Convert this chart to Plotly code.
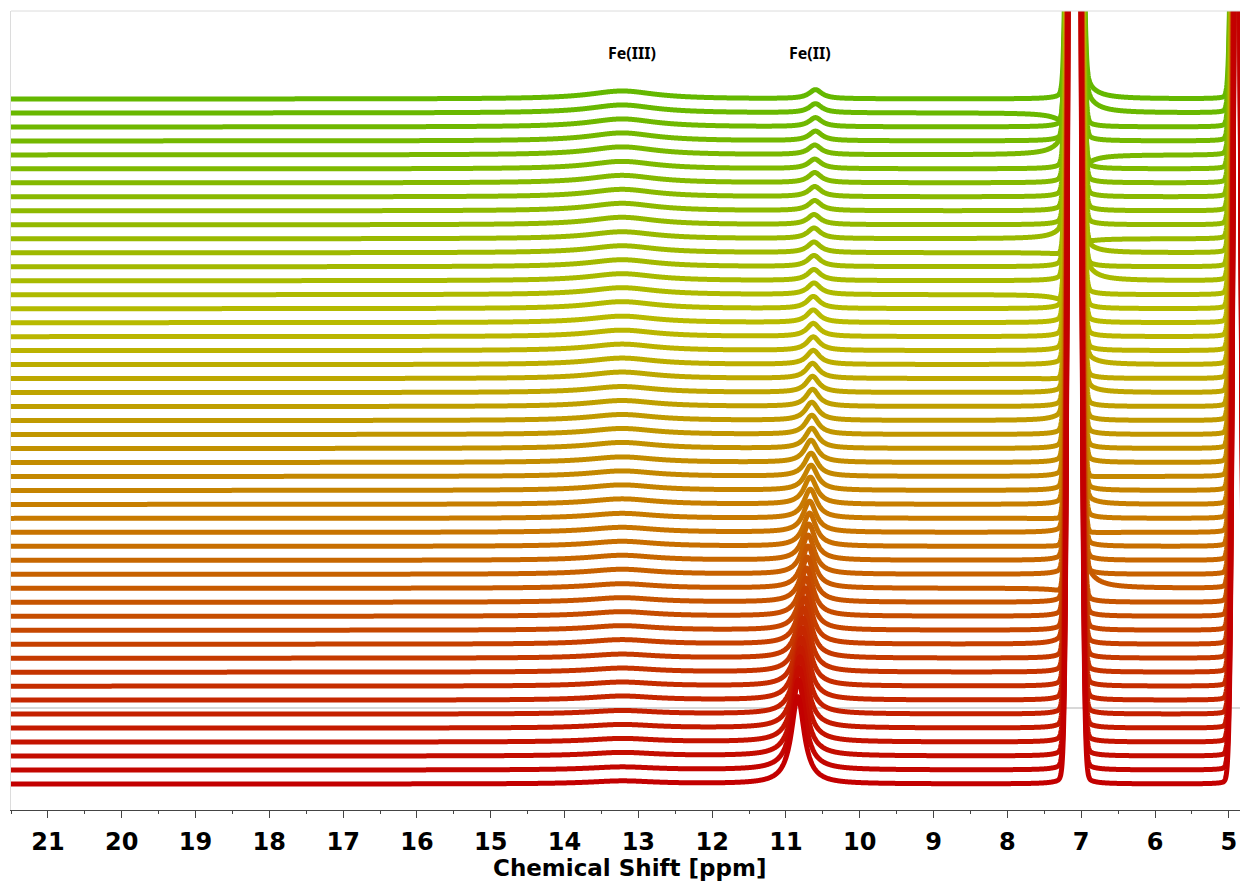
import numpy as np
import plotly.graph_objects as go

# ---------------- data (top trace -> bottom trace) ----------------
N_TRACES = 50
fe2_height = [9, 9, 9, 9.5, 9.5, 9.5, 10, 10, 10, 10,
              10.5, 10.5, 11, 11, 11.5, 12, 12.5, 13, 13.5, 14,
              15, 16, 17, 18, 19, 20, 22, 23, 25, 27,
              29, 31, 33, 36, 39, 42, 45, 48, 52, 56,
              60, 64, 68, 72, 76, 80, 85, 88, 90, 87]
fe2_shift = [10.60, 10.60, 10.60, 10.60, 10.61, 10.61, 10.61, 10.61, 10.61, 10.62,
             10.62, 10.62, 10.62, 10.62, 10.62, 10.63, 10.63, 10.63, 10.63, 10.63,
             10.64, 10.64, 10.64, 10.65, 10.65, 10.65, 10.66, 10.66, 10.66, 10.67,
             10.67, 10.68, 10.68, 10.69, 10.70, 10.70, 10.71, 10.72, 10.73, 10.74,
             10.75, 10.76, 10.77, 10.78, 10.79, 10.80, 10.81, 10.82, 10.83, 10.84]
fe3_height = [8, 8, 8, 8, 8, 7.5, 7.5, 7.5, 7.5, 7.5,
              7, 7, 7, 7, 7, 7, 6.5, 6.5, 6.5, 6.5,
              6.5, 6, 6, 6, 6, 6, 5.5, 5.5, 5.5, 5.5,
              5, 5, 5, 5, 5, 4.5, 4.5, 4.5, 4.5, 4.5,
              4, 4, 4, 4, 3.5, 3.5, 3.5, 3.5, 3, 3]
fe3_shift = 13.22
# phase tails of the off-scale solvent peak near 7 ppm (left = high-ppm side, right = low-ppm side)
tail7_left = [0, -45, 0, 0, 42, 0, 0, 0, 0, 0,
              25, -20, 0, 0, -35, 0, 0, 0, 0, 0,
              -15, 0, 0, 12, 0, 0, 0, 0, 0, 0,
              -15, 0, -12, 0, 0, -25, 0, 0, 0, 10,
              0, 0, 0, 0, 0, 0, 0, 0, 0, 0]
tail7_right = [45, 50, 0, 0, -45, 0, 0, 0, 0, 0,
               -25, 20, 0, 40, 0, 0, 0, 0, 0, 20,
               0, 15, 0, 0, 0, 0, 0, -15, 0, 12,
               0, -15, 0, 0, 0, 55, 0, 0, 0, 0,
               0, 0, 0, 0, 0, 0, 0, 0, 0, 0]
solvent_shift = [7.09, 4.89]
solvent_height = [3430, 1070]
solvent_sigma = [0.051, 0.045]
solvent_foot = [200, 70]
tick_values = list(range(5, 22))
labels = {"Fe(III)": 13.08, "Fe(II)": 10.67}
axis_title = "Chemical Shift [ppm]"

# ---------------- layout constants ----------------
X_RANGE = [21.5, 4.74]
Y_RANGE = [-102, 697]
TOP_OFFSET = 609.0
STEP = 13.98
FONT = "Noto Sans"
AXIS_FONT = "DejaVu Sans"

COLOR_STOPS = [(0.0, (100, 184, 0)), (0.33, (185, 186, 0)),
               (0.62, (200, 120, 0)), (1.0, (195, 0, 0))]


def colour(f):
    for (f0, c0), (f1, c1) in zip(COLOR_STOPS[:-1], COLOR_STOPS[1:]):
        if f <= f1:
            t = (f - f0) / (f1 - f0)
            return "rgb(%d,%d,%d)" % tuple(round(a + (b - a) * t) for a, b in zip(c0, c1))
    return "rgb(%d,%d,%d)" % COLOR_STOPS[-1][1]


def lor(x, c, fwhm):
    hw = fwhm / 2.0
    return hw * hw / ((x - c) ** 2 + hw * hw)


x = np.linspace(X_RANGE[0], X_RANGE[1], 3400)

fig = go.Figure()
for k in range(N_TRACES):
    y = np.full_like(x, TOP_OFFSET - STEP * k)
    y += fe3_height[k] * lor(x, fe3_shift, 1.1)
    y += fe2_height[k] * lor(x, fe2_shift[k], 0.21)
    for c, h, s, f in zip(solvent_shift, solvent_height, solvent_sigma, solvent_foot):
        y += h * np.exp(-0.5 * ((x - c) / s) ** 2) + f * lor(x, c, 0.06)
    d = x - solvent_shift[0]
    g = 0.12 ** 2 / (d ** 2 + 0.12 ** 2)
    y += np.where(d > 0, tail7_left[k] * g, tail7_right[k] * g)
    y = np.minimum(y, 1200)
    fig.add_trace(go.Scatter(x=x, y=y, mode="lines",
                             line=dict(color=colour(k / (N_TRACES - 1)), width=5, simplify=False),
                             hoverinfo="skip", showlegend=False))

for text, pos in labels.items():
    fig.add_annotation(x=pos, y=655, text="<b>%s</b>" % text, showarrow=False,
                       font=dict(family=FONT, size=16, color="black"))

# axis title placed as a paper annotation below the tick labels
fig.add_annotation(x=0.5, xref="paper", y=-0.0728, yref="paper", yanchor="middle",
                   text="<b>%s</b>" % axis_title, showarrow=False, borderpad=0,
                   font=dict(family=AXIS_FONT, size=23, color="black"))

fig.add_shape(type="line", xref="paper", yref="paper", x0=0, x1=1, y0=1, y1=1,
              line=dict(color="#dcdcdc", width=1))

# the page body has an 8px margin, so the figure is shrunk by that amount
fig.update_layout(
    width=1240, height=876,
    margin=dict(l=3, r=0, t=3, b=74, autoexpand=False),
    paper_bgcolor="white", plot_bgcolor="white",
    xaxis=dict(range=X_RANGE, tickvals=tick_values, ticktext=[str(v) for v in tick_values],
               automargin=False, ticklabelstandoff=3,
               ticks="outside", ticklen=7, tickwidth=1, tickcolor="#444",
               showline=True, linecolor="#444", linewidth=1, showgrid=False, zeroline=False,
               minor=dict(dtick=0.5, ticks="outside", ticklen=3, tickcolor="#444", showgrid=False),
               tickfont=dict(family=AXIS_FONT, size=24, color="black", weight="bold")),
    yaxis=dict(range=Y_RANGE, showticklabels=False, ticks="", showgrid=False, automargin=False,
               zeroline=True, zerolinecolor="#d8d8d8", zerolinewidth=2,
               showline=True, linecolor="#dcdcdc", linewidth=1),
)

fig.write_html("out.html")
